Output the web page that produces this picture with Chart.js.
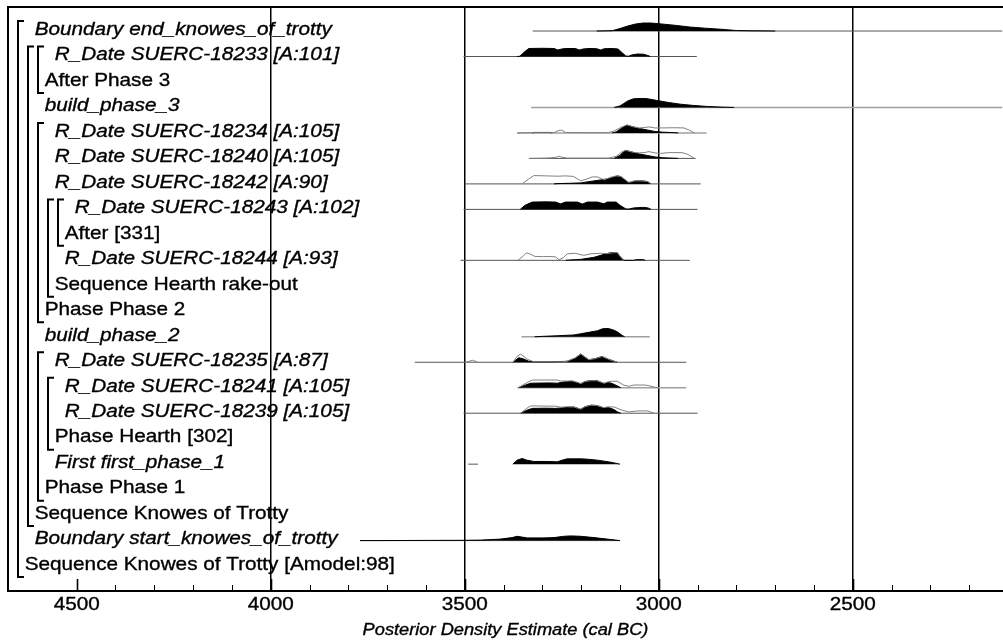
<!DOCTYPE html>
<html>
<head>
<meta charset="utf-8">
<script src="https://cdn.jsdelivr.net/npm/chart.js@4"></script>
<style>
  html, body { margin: 0; padding: 0; background: #fff; }
  #wrap { width: 1003px; height: 643px; }
</style>
</head>
<body>
<div id="wrap"><canvas id="plot" width="1003" height="643"></canvas></div>
<script>
// ---- model tree (one row per item, top to bottom) ----
const rowLabels = [
    'Boundary end_knowes_of_trotty',
    'R_Date SUERC-18233 [A:101]',
    'After Phase 3',
    'build_phase_3',
    'R_Date SUERC-18234 [A:105]',
    'R_Date SUERC-18240 [A:105]',
    'R_Date SUERC-18242 [A:90]',
    'R_Date SUERC-18243 [A:102]',
    'After [331]',
    'R_Date SUERC-18244 [A:93]',
    'Sequence Hearth rake-out',
    'Phase Phase 2',
    'build_phase_2',
    'R_Date SUERC-18235 [A:87]',
    'R_Date SUERC-18241 [A:105]',
    'R_Date SUERC-18239 [A:105]',
    'Phase Hearth [302]',
    'First first_phase_1',
    'Phase Phase 1',
    'Sequence Knowes of Trotty',
    'Boundary start_knowes_of_trotty',
    'Sequence Knowes of Trotty [Amodel:98]'
];
const rowDepth  = [1, 3, 2, 2, 3, 3, 3, 5, 4, 4, 3, 2, 2, 3, 4, 4, 3, 3, 2, 1, 1, 0];
const rowItalic = [1, 1, 0, 1, 1, 1, 1, 1, 0, 1, 0, 0, 1, 1, 1, 1, 0, 1, 0, 0, 1, 0];

// grouping brackets: first row, last row, nesting level
const groupFirst = [1, 2, 2, 5, 14, 8, 15, 8];
const groupLast  = [22, 20, 3, 12, 19, 11, 17, 9];
const groupLevel = [0, 1, 2, 2, 2, 3, 3, 4];

// ---- x axis (cal BC) ----
const tickYears = [4500, 4400, 4300, 4200, 4100, 4000, 3900, 3800, 3700, 3600, 3500,
                   3400, 3300, 3200, 3100, 3000, 2900, 2800, 2700, 2600, 2500, 2400, 2300, 2200];
const labelYears = [4500, 4000, 3500, 3000, 2500];
const gridYears = [4000, 3500, 3000, 2500];

// ---- range lines per row (from, to) ----
const rangeRows  = [1, 2, 4, 5, 6, 7, 8, 10, 13, 14, 15, 16, 18, 21];
const rangeFrom  = [3325, 3503, 3329, 3365, 3333, 3500, 3503, 3511, 3354, 3629, 3364, 3503, 3491, 3770];
const rangeTo    = [2115, 2902, 2115, 2877, 2905, 2892, 2900, 2920, 3023, 2929, 2929, 2900, 3466, 3100];
const rangeLight = [0, 0, 1, 1, 0, 0, 0, 0, 1, 0, 1, 0, 0, 0];

// ---- posterior densities (relative probability) ----
const endYears = [3160, 3120, 3100, 3080, 3060, 3040, 3020, 3000, 2960, 2920, 2880, 2840, 2800, 2760, 2700];
const endProb  = [0, 0.3, 2.5, 5, 7, 8, 8, 7.3, 5.8, 4, 2.8, 1.8, 0.5, 0.2, 0];

const s18233Years = [3365, 3358, 3345, 3335, 3300, 3270, 3260, 3250, 3240, 3215, 3205, 3195, 3180, 3160, 3150, 3140, 3120, 3105, 3095, 3085, 3078, 3070, 3055, 3040, 3028, 3022];
const s18233Prob  = [0, 0.3, 5, 8, 8.2, 8, 6.5, 7.5, 8, 8, 6.5, 7.5, 8, 7.8, 6.5, 7.8, 8, 7.5, 4, 0.5, 0.3, 1.5, 2.5, 2.3, 1, 0];

const bp3Years = [3115, 3100, 3090, 3080, 3065, 3045, 3030, 3005, 2975, 2945, 2910, 2875, 2840, 2806];
const bp3Prob  = [0, 1.5, 4, 6.5, 8.7, 9, 8.8, 7, 5, 3.3, 2, 1, 0.4, 0];

const s18234Years = [3325, 3320, 3280, 3275, 3200, 3120, 3110, 3095, 3082, 3070, 3050, 3030, 3010, 2990, 2960, 2950];
const s18234Prob  = [0, 0.5, 0.5, 0, null, 0, 1, 5, 7.8, 6.5, 4.5, 3, 1.5, 0.8, 0.3, 0];

const s18240Years = [3115, 3100, 3090, 3085, 3070, 3050, 3030, 3010, 2990, 2960, 2950];
const s18240Prob  = [0, 3, 7, 8, 6.5, 4.5, 3, 1.5, 0.7, 0.2, 0];

const s18242Years = [3270, 3260, 3230, 3201, 3185, 3167, 3150, 3133, 3115, 3105, 3095, 3080, 3070, 3060, 3040, 3028, 3020];
const s18242Prob  = [0, 0.3, 0.6, 1, 2, 3, 4, 5, 7, 8, 6.5, 1.5, 1.5, 3, 3, 2, 0];

const s18243Years = [3357, 3345, 3326, 3290, 3266, 3253, 3240, 3210, 3197, 3184, 3158, 3141, 3133, 3110, 3100, 3085, 3077, 3064, 3040, 3028, 3020];
const s18243Prob  = [0, 4, 7.3, 7.5, 7.3, 5.5, 7.3, 7.3, 5.3, 7.3, 7.3, 5.5, 7.3, 7.3, 4, 0.5, 0.3, 1.5, 2, 1.5, 0];

const s18244Years = [3240, 3230, 3200, 3167, 3141, 3124, 3107, 3098, 3090, 3065, 3058, 3040, 3035];
const s18244Prob  = [0, 0.3, 1, 3, 6, 7.7, 7.7, 3, 0, 0, 0.7, 0.7, 0];

const bp2Years = [3320, 3300, 3262, 3219, 3201, 3180, 3158, 3145, 3130, 3115, 3105, 3095, 3088];
const bp2Prob  = [0, 0.4, 1, 1.8, 3, 4.5, 6, 8, 8.3, 6.5, 4.5, 1.5, 0];

const s18235Years = [3376, 3361, 3350, 3335, 3325, 3270, 3236, 3215, 3201, 3190, 3180, 3165, 3146, 3130, 3107];
const s18235Prob  = [0, 4.5, 3.5, 1, 0.5, 0.4, 1, 4, 8.3, 5, 2.5, 3.5, 5.7, 3, 0];

const s18241Years = [3362, 3345, 3330, 3300, 3279, 3262, 3245, 3225, 3210, 3201, 3190, 3175, 3160, 3141, 3130, 3120, 3105, 3098];
const s18241Prob  = [0, 2.5, 4.5, 4.7, 4.8, 4.5, 5.8, 6.3, 5.2, 4, 6.2, 7.2, 7.2, 4.2, 5.2, 4.2, 1.5, 0];

const s18239Years = [3356, 3340, 3326, 3290, 3266, 3250, 3230, 3219, 3201, 3190, 3175, 3160, 3141, 3129, 3115, 3105, 3098];
const s18239Prob  = [0, 3, 4.8, 5, 4.8, 5.3, 6, 6.2, 4, 6.5, 8, 7.7, 5.2, 5.7, 3.5, 1, 0];

const firstYears = [3376, 3365, 3352, 3340, 3322, 3280, 3262, 3245, 3236, 3201, 3184, 3158, 3124, 3100];
const firstProb  = [0, 4, 5.7, 4, 2.7, 2.7, 2.3, 4.5, 5.3, 5.3, 5, 4, 2, 0];

const startYears = [3770, 3700, 3600, 3500, 3459, 3408, 3378, 3365, 3339, 3296, 3270, 3245, 3227, 3201, 3167, 3133, 3100];
const startProb  = [0, 0.05, 0.2, 0.3, 0.5, 1.5, 3, 4.3, 2.7, 2.7, 3, 4.3, 4.7, 4.3, 3, 1.5, 0];

// ---- unmodelled likelihoods (relative probability) ----
const l18234Years = [3365, 3340, 3270, 3258, 3250, 3240, 3200, 3130, 3115, 3095, 3082, 3065, 3050, 3035, 3025, 3010, 2990, 2960, 2935, 2920, 2908];
const l18234Prob  = [0, 0.3, 0.3, 2.5, 2.8, 0.5, 0.3, 0.3, 2, 6, 8, 6, 5, 5.5, 6, 5, 5, 5.2, 5, 2.5, 0];

const l18240Years = [3335, 3290, 3265, 3258, 3250, 3235, 3130, 3110, 3095, 3085, 3065, 3050, 3035, 3025, 3010, 2995, 2975, 2940, 2925, 2908];
const l18240Prob  = [0, 0.3, 1, 2.2, 1.2, 0.3, 0.3, 2, 6.5, 8, 6, 5.5, 6, 6.8, 5.5, 5, 5.8, 5.8, 4, 0];

const l18242Years = [3352, 3335, 3322, 3290, 3260, 3240, 3220, 3201, 3185, 3171, 3158, 3141, 3125, 3110, 3098, 3077, 3065, 3045, 3029, 3021];
const l18242Prob  = [0, 5, 8.3, 8, 7.7, 8, 7.5, 3, 5, 7, 7, 4, 6.5, 8, 7.5, 1.5, 3, 3, 2.5, 0];

const l18244Years = [3363, 3350, 3341, 3330, 3320, 3300, 3280, 3266, 3257, 3245, 3236, 3215, 3200, 3193, 3175, 3150, 3130, 3116, 3107, 3098, 3090];
const l18244Prob  = [0, 4, 7.5, 6, 4, 3.7, 3.8, 3.5, 0.5, 3, 6.5, 7, 5.5, 5, 6.5, 7, 6.8, 7.7, 7.7, 3, 0];

const l18235Years = [3500, 3494, 3480, 3468, 3400, 3376, 3365, 3356, 3345, 3339, 3322, 3250, 3236, 3215, 3201, 3190, 3180, 3165, 3146, 3130, 3107];
const l18235Prob  = [0, 0.3, 2, 0.3, null, 0, 6, 8, 5, 3, 0.5, 0.4, 1, 4.5, 8.3, 5, 2.5, 3.5, 5.7, 3, 0];

const l18241Years = [3362, 3340, 3326, 3262, 3253, 3236, 3223, 3210, 3201, 3190, 3175, 3160, 3141, 3130, 3120, 3107, 3090, 3077, 3064, 3035, 3020, 3008, 3000];
const l18241Prob  = [0, 5, 7.7, 7.7, 6.7, 6.7, 7, 5.3, 4, 6.2, 7, 7, 4.5, 6, 6.5, 6.5, 2.5, 1.5, 2.7, 2.7, 1.5, 0.3, 0];

const l18239Years = [3356, 3340, 3330, 3266, 3253, 3235, 3219, 3201, 3190, 3175, 3160, 3141, 3133, 3116, 3094, 3077, 3055, 3029, 3012];
const l18239Prob  = [0, 5, 7.3, 7, 6, 6.5, 6.2, 4, 6.5, 8, 7.7, 5.5, 6.3, 6.3, 3, 1.3, 2.3, 2.3, 0];

const posteriors = [
    { row: 1, years: endYears, prob: endProb },
    { row: 2, years: s18233Years, prob: s18233Prob },
    { row: 4, years: bp3Years, prob: bp3Prob },
    { row: 5, years: s18234Years, prob: s18234Prob },
    { row: 6, years: s18240Years, prob: s18240Prob },
    { row: 7, years: s18242Years, prob: s18242Prob },
    { row: 8, years: s18243Years, prob: s18243Prob },
    { row: 10, years: s18244Years, prob: s18244Prob },
    { row: 13, years: bp2Years, prob: bp2Prob },
    { row: 14, years: s18235Years, prob: s18235Prob },
    { row: 15, years: s18241Years, prob: s18241Prob },
    { row: 16, years: s18239Years, prob: s18239Prob },
    { row: 18, years: firstYears, prob: firstProb },
    { row: 21, years: startYears, prob: startProb }
];
const likelihoods = [
    { row: 5, years: l18234Years, prob: l18234Prob },
    { row: 6, years: l18240Years, prob: l18240Prob },
    { row: 7, years: l18242Years, prob: l18242Prob },
    { row: 10, years: l18244Years, prob: l18244Prob },
    { row: 14, years: l18235Years, prob: l18235Prob },
    { row: 15, years: l18241Years, prob: l18241Prob },
    { row: 16, years: l18239Years, prob: l18239Prob }
];

// one unit of probability lifts the curve this much of a row
const PROB_SCALE = 1 / 25.45;
const FONT = '"Liberation Sans", Arial, Helvetica, sans-serif';
const STRETCH = 1.12;
const LABEL_SIZE = 18.5;

function toPoints(row, years, prob) {
    return years.map((yr, i) => ({ x: yr, y: prob[i] === null ? null : row - prob[i] * PROB_SCALE }));
}

const datasets = [];
rangeRows.forEach((row, i) => {
    datasets.push({
        data: [{ x: rangeFrom[i], y: row }, { x: rangeTo[i], y: row }],
        borderColor: rangeLight[i] ? '#a0a0a0' : '#555555',
        borderWidth: rangeLight[i] ? 1.6 : 1,
        pointRadius: 0, fill: false, order: 3
    });
});
posteriors.forEach(p => {
    datasets.push({
        data: toPoints(p.row, p.years, p.prob),
        borderColor: '#000', borderWidth: 1,
        backgroundColor: '#000',
        pointRadius: 0, fill: { value: p.row }, order: 2
    });
});
likelihoods.forEach(p => {
    datasets.push({
        data: toPoints(p.row, p.years, p.prob),
        borderColor: '#808080', borderWidth: 1,
        pointRadius: 0, fill: false, order: 1
    });
});

// text is drawn slightly wide and with a thin outline, like the OxCal output
function stretchedText(ctx, txt, x, y, size, italic, center) {
    ctx.save();
    ctx.font = (italic ? 'italic ' : '') + size + 'px ' + FONT;
    ctx.textBaseline = 'alphabetic';
    ctx.fillStyle = '#000';
    ctx.strokeStyle = '#000';
    ctx.lineWidth = 0.35;
    const w = ctx.measureText(txt).width * STRETCH;
    ctx.translate(center ? x - w / 2 : x, y);
    ctx.scale(STRETCH, 1);
    ctx.fillText(txt, 0, 0);
    ctx.strokeText(txt, 0, 0);
    ctx.restore();
}

// labels, brackets, frame and axis annotations
const treePlugin = {
    id: 'oxcalTree',
    beforeDatasetsDraw(chart) {
        const ctx = chart.ctx;
        const area = chart.chartArea;
        const ys = chart.scales.y;
        rowLabels.forEach((txt, i) => {
            const y = ys.getPixelForValue(i + 1) + 3.8;
            stretchedText(ctx, txt, area.left + 16.7 + 10 * rowDepth[i], y, LABEL_SIZE, rowItalic[i] === 1, false);
        });
        ctx.save();
        ctx.strokeStyle = '#000';
        ctx.lineWidth = 2;
        groupFirst.forEach((first, i) => {
            const x = area.left + 10 + 10 * groupLevel[i];
            const top = ys.getPixelForValue(first) - 10;
            const bot = ys.getPixelForValue(groupLast[i]) + 11;
            ctx.beginPath();
            ctx.moveTo(x + 6, top);
            ctx.lineTo(x, top);
            ctx.lineTo(x, bot);
            ctx.lineTo(x + 6, bot);
            ctx.stroke();
        });
        ctx.restore();
    },
    afterDraw(chart) {
        const ctx = chart.ctx;
        const area = chart.chartArea;
        const xs = chart.scales.x;
        ctx.save();
        ctx.strokeStyle = '#000';
        ctx.lineWidth = 2;
        ctx.beginPath();
        ctx.moveTo(area.left, area.bottom);
        ctx.lineTo(area.left, area.top);
        ctx.lineTo(area.right, area.top);
        ctx.stroke();
        tickYears.forEach(yr => {
            const x = Math.round(xs.getPixelForValue(yr)) + 0.5;
            const major = labelYears.includes(yr);
            ctx.lineWidth = major ? 1.6 : 1;
            ctx.beginPath();
            ctx.moveTo(x, area.bottom);
            ctx.lineTo(x, area.bottom - (major ? 12 : 6));
            ctx.stroke();
        });
        ctx.restore();
        labelYears.forEach(yr => {
            stretchedText(ctx, String(yr), xs.getPixelForValue(yr), area.bottom + 19, LABEL_SIZE, false, true);
        });
        stretchedText(ctx, 'Posterior Density Estimate (cal BC)', (area.left + area.right) / 2,
            area.bottom + 44, 16.3, true, true);
    }
};

new Chart(document.getElementById('plot'), {
    type: 'line',
    data: { datasets },
    options: {
        responsive: false,
        animation: false,
        devicePixelRatio: 1,
        layout: { padding: { left: 8, top: 7, right: 0, bottom: 0 } },
        plugins: { legend: { display: false }, tooltip: { enabled: false } },
        elements: { line: { tension: 0 } },
        scales: {
            x: {
                type: 'linear',
                min: 2113, max: 4677, reverse: true,
                afterBuildTicks: s => { s.ticks = tickYears.map(v => ({ value: v })); },
                afterFit: s => { s.height = 52; },
                ticks: { display: false },
                grid: {
                    drawTicks: false,
                    color: c => gridYears.includes(c.tick && c.tick.value) ? '#000' : 'rgba(0,0,0,0)',
                    lineWidth: 1.5
                },
                border: { display: true, color: '#000', width: 2 }
            },
            y: {
                type: 'linear',
                display: false,
                min: 0.057, max: 22.978, reverse: true
            }
        }
    },
    plugins: [treePlugin]
});
</script>
</body>
</html>
